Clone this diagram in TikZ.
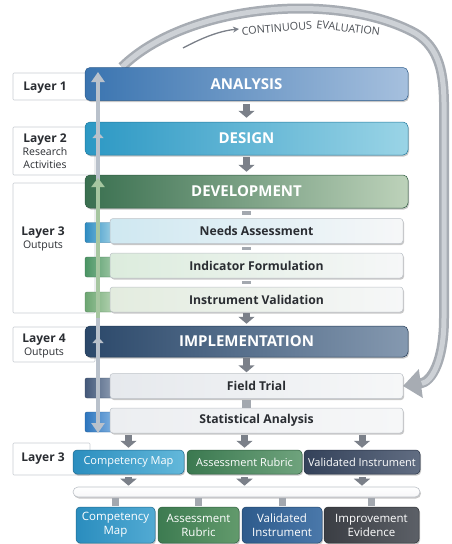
\documentclass[tikz,border=0pt]{standalone}
\usepackage{fontspec}
\setmainfont{Open Sans}
\usetikzlibrary{arrows.meta,shadows,calc}

\definecolor{anaL}{HTML}{3A74B0}\definecolor{anaR}{HTML}{A6C0DE}
\definecolor{desL}{HTML}{2C98C4}\definecolor{desR}{HTML}{9AD4E6}
\definecolor{devL}{HTML}{3A7050}\definecolor{devR}{HTML}{BDD2BA}
\definecolor{impL}{HTML}{2B486A}\definecolor{impR}{HTML}{8599B0}
\definecolor{arrowgray}{HTML}{7B8089}
\definecolor{stubgray}{HTML}{A3A8AF}
\definecolor{txtdark}{HTML}{2A2D32}
\definecolor{boxline}{HTML}{BCC1C7}
\definecolor{labline}{HTML}{C9CDD2}
\definecolor{ribbonbase}{HTML}{A7ACB3}
\definecolor{ribbonhi}{HTML}{CDD1D6}
\definecolor{evaltext}{HTML}{4A4E54}
\definecolor{spine}{HTML}{B9C1CB}
\definecolor{spinegreen}{HTML}{A6C6A0}
\definecolor{stepend}{HTML}{F6F7F8}
% tabs
\definecolor{needsA}{HTML}{2F8CC2}\definecolor{needsB}{HTML}{9ACFE4}
\definecolor{indA}{HTML}{4A9464}\definecolor{indB}{HTML}{9CC6A2}
\definecolor{instA}{HTML}{6CA672}\definecolor{instB}{HTML}{B3D2B0}
\definecolor{fieldA}{HTML}{44597A}\definecolor{fieldB}{HTML}{8D9CB2}
\definecolor{statA}{HTML}{2D76BE}\definecolor{statB}{HTML}{7FB0E0}
% step box tints
\definecolor{needsTint}{HTML}{CFE8F1}
\definecolor{indTint}{HTML}{DCECDD}
\definecolor{instTint}{HTML}{E3ECDF}
\definecolor{fieldTint}{HTML}{E6E9ED}
\definecolor{statTint}{HTML}{ECEEF1}
% outputs
\definecolor{compA}{HTML}{2B8EBF}\definecolor{compB}{HTML}{63B8DA}
\definecolor{rubA}{HTML}{3B7950}\definecolor{rubB}{HTML}{6FA37D}
\definecolor{valA}{HTML}{34425A}\definecolor{valB}{HTML}{616D82}
\definecolor{fcompA}{HTML}{2A8DBE}\definecolor{fcompB}{HTML}{52AAD3}
\definecolor{frubA}{HTML}{3D7B51}\definecolor{frubB}{HTML}{629A6C}
\definecolor{finstA}{HTML}{2E5B8C}\definecolor{finstB}{HTML}{4A78AA}
\definecolor{fevA}{HTML}{3B3E44}\definecolor{fevB}{HTML}{5C6067}

\begin{document}
\begin{tikzpicture}[x=1pt,y=-1pt,
  softshadow/.style={drop shadow={shadow xshift=1pt,shadow yshift=-1.5pt,opacity=.22,fill=black}},
  phase/.style 2 args={left color=#1,right color=#2,draw=#1!80!black,line width=.5pt,
    rounded corners=5pt,minimum width=323pt,minimum height=33pt,inner sep=0pt,
    text=white,font=\fontsize{15}{17}\selectfont\bfseries,softshadow},
  stepbox/.style={left color=#1,right color=stepend,draw=boxline,line width=.5pt,
    rounded corners=3pt,minimum width=293pt,minimum height=25pt,inner sep=0pt,
    text=txtdark,font=\fontsize{12.2}{14}\selectfont\bfseries,softshadow},
  tab/.style 2 args={left color=#1,right color=#2,draw=#1!80!black,line width=.4pt,
    rounded corners=2pt,minimum width=28pt,minimum height=20pt,inner sep=0pt},
  outbox/.style 2 args={left color=#1,right color=#2,draw=#1!75!black,line width=.5pt,
    rounded corners=4pt,minimum height=24pt,inner sep=0pt,text=white,
    font=\fontsize{11}{13}\selectfont,softshadow},
  finalbox/.style 2 args={left color=#1,right color=#2,draw=#1!75!black,line width=.5pt,
    rounded corners=4pt,minimum height=36pt,inner sep=0pt,text=white,align=center,
    font=\fontsize{11.5}{14}\selectfont,softshadow},
  labelbox/.style={draw=labline,fill=white,line width=.6pt,rounded corners=1pt,inner sep=0pt},
  labeltext/.style={text=txtdark,align=center,font=\fontsize{10.5}{13}\selectfont},
  evallabel/.style={text=evaltext,inner sep=0pt,font=\fontsize{10.8}{11}\selectfont},
  blockarrow/.style={draw=arrowgray,line width=7pt,-{Triangle[width=16pt,length=7pt]}},
  stub/.style={draw=stubgray,line width=9pt},
  ribbon/.style={draw=ribbonbase,line width=10pt,-{Triangle[width=28pt,length=18pt]},
    postaction={draw=ribbonhi,line width=5pt,-,shorten >=19pt}},
  spinearrow/.style={draw=#1,line width=4.5pt},
]
\useasboundingbox (0,0) rectangle (451,544);

% ---- layer captions on the left ----
\node[labelbox,minimum width=82pt,minimum height=27pt]  (lay1box) at (54,86.5) {};
\node[labelbox,minimum width=82pt,minimum height=48pt]  (lay2box) at (54,151) {};
\node[labelbox,minimum width=82pt,minimum height=130pt] (lay3box) at (54,248) {};
\node[labelbox,minimum width=82pt,minimum height=35pt]  (lay4box) at (54,344.5) {};
\node[labelbox,minimum width=77pt,minimum height=32pt]  (lay5box) at (51.5,459) {};

\node[labeltext] (lay1) at (45,88) {{\fontsize{12}{13}\selectfont\bfseries Layer 1}};
\node[labeltext] (lay2) at (45,151.5) {{\fontsize{12}{13}\selectfont\bfseries Layer 2}\\Research\\Activities};
\node[labeltext] (lay3) at (43,238.5) {{\fontsize{12}{13}\selectfont\bfseries Layer 3}\\Outputs};
\node[labeltext] (lay4) at (44,346) {{\fontsize{12}{13}\selectfont\bfseries Layer 4}\\Outputs};
\node[labeltext] (lay5) at (43,459) {{\fontsize{12}{13}\selectfont\bfseries Layer 3}};

% ---- continuous evaluation loop (behind the bars) ----
\coordinate (loopStart) at (122,67);
\coordinate (loopEnd) at (403,386);
\draw[ribbon] (loopStart)
  .. controls (185,5) and (335,-10) .. (415,33)
  .. controls (447,52) and (444,90) .. (444,130)
  -- (444,318)
  .. controls (444,360) and (432,382) .. (loopEnd);

\coordinate (evalTail) at (183,48);
\coordinate (evalHead) at (239,29);
\draw[draw=arrowgray,line width=1.3pt,-{Stealth[length=6pt,width=6pt]}]
  (evalTail) .. controls (200,39) and (218,31) .. (evalHead);
\node[evallabel,rotate=5,anchor=south west]  (evalA) at (242,35.5) {CONTINUOUS};
\node[evallabel,rotate=-7,anchor=south west] (evalB) at (316,28.5) {EVALUATION};

% ---- phase bars ----
\node[phase={anaL}{anaR}] (analysis) at (246.5,84) {ANALYSIS};
\node[phase={desL}{desR}] (design) at (246.5,138.5) {DESIGN};
\node[phase={devL}{devR}] (development) at (246.5,191.5) {DEVELOPMENT};
\node[phase={impL}{impR},minimum height=31pt] (implementation) at (246.5,341.5) {IMPLEMENTATION};

% ---- step tabs and boxes ----
\node[tab={needsA}{needsB}] (needstab) at (99,232.5) {};
\node[tab={indA}{indB}]     (indtab)   at (99,267) {};
\node[tab={instA}{instB}]   (insttab)  at (99,302) {};
\node[tab={fieldA}{fieldB}] (fieldtab) at (99,388) {};
\node[tab={statA}{statB}]   (stattab)  at (99,422) {};

\node[stepbox=needsTint] (needs)       at (256.5,231)   {Needs Assessment};
\node[stepbox=indTint]   (indicator)   at (256.5,265.5) {Indicator Formulation};
\node[stepbox=instTint]  (instrument)  at (256.5,299.5) {Instrument Validation};
\node[stepbox=fieldTint] (fieldtrial)  at (256.5,386)   {Field Trial};
\node[stepbox=statTint]  (statistical) at (256.5,420.5) {Statistical Analysis};

% ---- connectors between the phases ----
\draw[blockarrow,shorten <=3pt,shorten >=4pt] (analysis.south) -- (design.north);
\draw[blockarrow,shorten <=2pt,shorten >=3pt] (design.south) -- (development.north);
\draw[stub,shorten <=3pt,shorten >=3pt] (development.south) -- (development.south |- needs.north);
\draw[stub,shorten <=3pt,shorten >=3pt] (needs.south -| development.south) -- (development.south |- indicator.north);
\draw[stub,shorten <=3pt,shorten >=3pt] (indicator.south -| development.south) -- (development.south |- instrument.north);
\draw[blockarrow,shorten <=1pt,shorten >=2pt] (instrument.south -| implementation.north) -- (implementation.north);
\draw[blockarrow,shorten <=1pt,shorten >=1pt] (implementation.south) -- (implementation.south |- fieldtrial.north);
\draw[stub,shorten <=1pt,shorten >=0pt] (fieldtrial.south -| implementation.south) -- (implementation.south |- statistical.north);

% ---- vertical review spine ----
\coordinate (spineTop) at (98,72);
\coordinate (spineBot) at (98,433);
\draw[spinearrow=spine,{Triangle[width=13pt,length=10pt]}-{Triangle[width=13pt,length=10pt]}] (spineBot) -- (spineTop);
\draw[spinearrow=spinegreen,-{Triangle[width=13pt,length=9pt]}] (98,318) -- (98,178);
\draw[spinearrow=spine,-{Triangle[width=11pt,length=6pt]}] (98,142) -- (98,132);
\draw[spinearrow=spine,-{Triangle[width=11pt,length=6pt]}] (98,347) -- (98,337);

% ---- layer 3 outputs ----
\node[outbox={compA}{compB},minimum width=111pt] (compmap) at (128.5,462) {Competency Map};
\node[outbox={rubA}{rubB},minimum width=115pt]   (rubric)  at (244.5,462) {Assessment Rubric};
\node[outbox={valA}{valB},minimum width=116pt]   (valinst) at (362,462)   {Validated Instrument};

\draw[blockarrow,shorten <=2pt,shorten >=2pt] (statistical.south -| compmap.north) -- (compmap.north);
\draw[blockarrow,shorten <=2pt,shorten >=2pt] (statistical.south -| rubric.north) -- (rubric.north);
\draw[blockarrow,shorten <=2pt,shorten >=2pt] (statistical.south -| valinst.north) -- (valinst.north);

% ---- collecting tray ----
\node[draw=boxline,top color=white,bottom color=stepend,line width=.6pt,rounded corners=5pt,
  minimum width=347pt,minimum height=10pt,inner sep=0pt,softshadow] (tray) at (246.5,492) {};

\draw[blockarrow,shorten <=3pt,shorten >=1pt] (compmap.south) -- (compmap.south |- tray.north);
\draw[blockarrow,shorten <=3pt,shorten >=1pt] (rubric.south) -- (rubric.south |- tray.north);
\draw[blockarrow,shorten <=3pt,shorten >=1pt] (valinst.south) -- (valinst.south |- tray.north);

% ---- final products ----
\node[finalbox={fcompA}{fcompB},minimum width=79pt] (fcomp)   at (115.5,525) {Competency\\Map};
\node[finalbox={frubA}{frubB},minimum width=81pt]   (frubric) at (198.5,525) {Assessment\\Rubric};
\node[finalbox={finstA}{finstB},minimum width=80pt] (finst)   at (282,525)   {Validated\\Instrument};
\node[finalbox={fevA}{fevB},minimum width=95pt]     (fevid)   at (371.5,525) {Improvement\\Evidence};

\draw[stub,line width=7pt,shorten <=1pt,shorten >=1pt] (tray.south -| fcomp.north) -- (fcomp.north);
\draw[stub,line width=7pt,shorten <=1pt,shorten >=1pt] (tray.south -| frubric.north) -- (frubric.north);
\draw[stub,line width=7pt,shorten <=1pt,shorten >=1pt] (tray.south -| finst.north) -- (finst.north);
\draw[stub,line width=7pt,shorten <=1pt,shorten >=1pt] (tray.south -| fevid.north) -- (fevid.north);
\end{tikzpicture}
\end{document}
